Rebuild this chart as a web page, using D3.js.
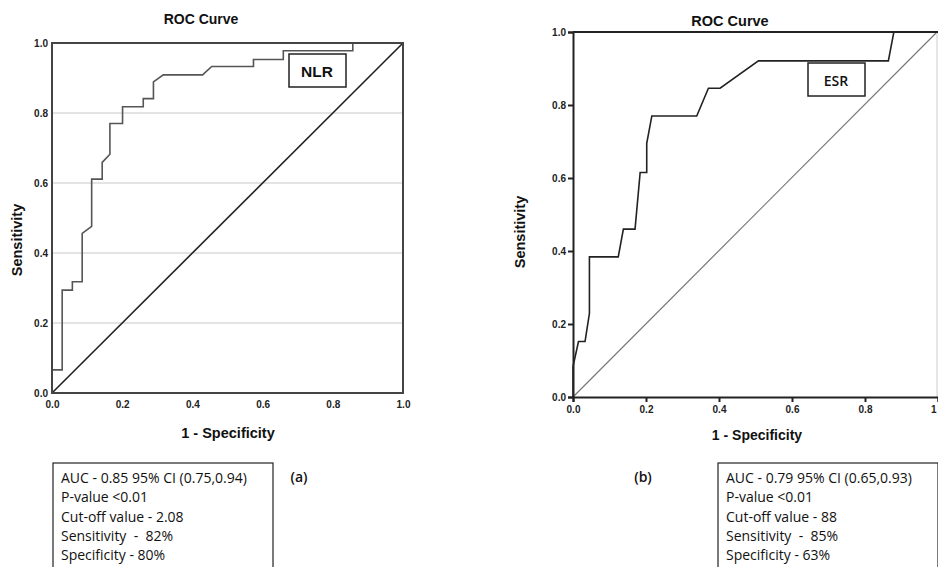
<!DOCTYPE html>
<html>
<head>
<meta charset="utf-8">
<script src="https://cdn.jsdelivr.net/npm/d3@7"></script>
<style>
  body { margin: 0; background: #fff; }
  svg { display: block; }
  .tick text { font-family: "Liberation Sans", Arial, sans-serif; font-weight: bold; font-size: 10px; fill: #222; }
  .lbl { font-family: "Liberation Sans", Arial, sans-serif; font-weight: bold; fill: #111; }
  .note { font-family: "Open Sans", "Noto Sans", sans-serif; font-size: 14px; fill: #111; white-space: pre; }
</style>
</head>
<body>
<div id="chart"></div>
<script>
// NLR curve (panel a)
let nlrFpr = [0, 0, 0.029, 0.029, 0.058, 0.058, 0.086, 0.086, 0.113, 0.113, 0.143, 0.143, 0.165, 0.165, 0.201, 0.201, 0.260, 0.260, 0.289, 0.289, 0.317, 0.429, 0.455, 0.574, 0.574, 0.659, 0.659, 0.857, 0.857, 1.0];
let nlrTpr = [0, 0.066, 0.066, 0.294, 0.294, 0.318, 0.318, 0.456, 0.476, 0.611, 0.611, 0.659, 0.682, 0.770, 0.770, 0.818, 0.818, 0.841, 0.841, 0.889, 0.909, 0.909, 0.933, 0.933, 0.953, 0.953, 0.978, 0.978, 1.0, 1.0];

// ESR curve (panel b)
let esrFpr = [0, 0, 0.015, 0.033, 0.045, 0.045, 0.124, 0.138, 0.170, 0.184, 0.202, 0.202, 0.216, 0.339, 0.371, 0.403, 0.508, 0.864, 0.879, 1.0];
let esrTpr = [0, 0.083, 0.152, 0.152, 0.229, 0.384, 0.384, 0.460, 0.460, 0.615, 0.615, 0.695, 0.770, 0.770, 0.846, 0.846, 0.921, 0.921, 1.0, 1.0];

let tickValues = [0, 0.2, 0.4, 0.6, 0.8, 1.0];
let gridValues = [0.2, 0.4, 0.6, 0.8];

let nlrNotes = ['AUC - 0.85 95% CI (0.75,0.94)', 'P-value <0.01', 'Cut-off value - 2.08', 'Sensitivity  -  82%', 'Specificity - 80%'];
let esrNotes = ['AUC - 0.79 95% CI (0.65,0.93)', 'P-value <0.01', 'Cut-off value - 88', 'Sensitivity  -  85%', 'Specificity - 63%'];

let W = 938, H = 567;
let svg = d3.select('#chart').append('svg').attr('width', W).attr('height', H);
svg.append('rect').attr('width', W).attr('height', H).attr('fill', '#fff');

let fmt = d3.format('.1f');

// ---------- panel (a) ----------
let a = {left: 52, top: 43, w: 351, h: 350};
let xa = d3.scaleLinear().domain([0, 1]).range([a.left, a.left + a.w]);
let ya = d3.scaleLinear().domain([0, 1]).range([a.top + a.h, a.top]);

svg.append('g').selectAll('line').data(gridValues).enter().append('line')
  .attr('x1', xa(0)).attr('x2', xa(1))
  .attr('y1', d => ya(d)).attr('y2', d => ya(d))
  .attr('stroke', '#c8c8c8').attr('stroke-width', 1);

svg.append('line').attr('x1', xa(0)).attr('y1', ya(0)).attr('x2', xa(1)).attr('y2', ya(1))
  .attr('stroke', '#222').attr('stroke-width', 1.6);

svg.append('path').datum(d3.zip(nlrFpr, nlrTpr))
  .attr('d', d3.line().x(d => xa(d[0])).y(d => ya(d[1])))
  .attr('fill', 'none').attr('stroke', '#555').attr('stroke-width', 1.6);

svg.append('rect').attr('x', a.left).attr('y', a.top).attr('width', a.w).attr('height', a.h)
  .attr('fill', 'none').attr('stroke', '#444').attr('stroke-width', 2);

svg.append('g').attr('transform', 'translate(0,' + (a.top + a.h) + ')')
  .call(d3.axisBottom(xa).tickValues(tickValues).tickFormat(fmt).tickSize(0).tickPadding(8))
  .call(g => g.select('.domain').remove());
svg.append('g').attr('transform', 'translate(' + a.left + ',0)')
  .call(d3.axisLeft(ya).tickValues(tickValues).tickFormat(fmt).tickSize(0).tickPadding(4))
  .call(g => g.select('.domain').remove());

svg.append('text').attr('class', 'lbl').attr('x', 201).attr('y', 24).attr('text-anchor', 'middle')
  .attr('font-size', 14).text('ROC Curve');
svg.append('text').attr('class', 'lbl').attr('transform', 'translate(22,240) rotate(-90)')
  .attr('text-anchor', 'middle').attr('font-size', 14.5).text('Sensitivity');
svg.append('text').attr('class', 'lbl').attr('x', 228).attr('y', 438).attr('text-anchor', 'middle')
  .attr('font-size', 14.5).text('1 - Specificity');

svg.append('rect').attr('x', 289).attr('y', 54).attr('width', 57).attr('height', 33)
  .attr('fill', '#fff').attr('stroke', '#222').attr('stroke-width', 1.5);
svg.append('text').attr('class', 'lbl').attr('x', 317).attr('y', 77).attr('text-anchor', 'middle')
  .attr('font-size', 15.5).text('NLR');

// ---------- panel (b) ----------
let b = {left: 573, top: 32, w: 365, h: 365};
let xb = d3.scaleLinear().domain([0, 1]).range([b.left, b.left + b.w]);
let yb = d3.scaleLinear().domain([0, 1]).range([b.top + b.h, b.top]);

svg.append('line').attr('x1', xb(0)).attr('y1', yb(0)).attr('x2', xb(1) - 1).attr('y2', yb(1))
  .attr('stroke', '#777').attr('stroke-width', 1.2);

svg.append('line').attr('x1', xb(1) - 1).attr('x2', xb(1) - 1).attr('y1', yb(0)).attr('y2', yb(1))
  .attr('stroke', '#ccc').attr('stroke-width', 1);
svg.append('line').attr('x1', xb(0)).attr('x2', xb(1)).attr('y1', yb(1)).attr('y2', yb(1))
  .attr('stroke', '#222').attr('stroke-width', 2);

svg.append('path').datum(d3.zip(esrFpr, esrTpr))
  .attr('d', d3.line().x(d => xb(d[0])).y(d => yb(d[1])))
  .attr('fill', 'none').attr('stroke', '#222').attr('stroke-width', 1.6);

svg.append('g').attr('transform', 'translate(0,' + (b.top + b.h) + ')')
  .call(d3.axisBottom(xb).tickValues(tickValues).tickFormat(d => d == 1 ? '1' : fmt(d)).tickSize(5).tickPadding(4))
  .call(g => g.selectAll('.domain, line').attr('stroke', '#222').attr('stroke-width', 2))
  .call(g => g.selectAll('.tick text').filter(d => d == 1).attr('text-anchor', 'end').attr('dx', -2));
svg.append('g').attr('transform', 'translate(' + b.left + ',0)')
  .call(d3.axisLeft(yb).tickValues(tickValues).tickFormat(fmt).tickSize(5).tickPadding(2))
  .call(g => g.selectAll('.domain, line').attr('stroke', '#222').attr('stroke-width', 2));

svg.append('text').attr('class', 'lbl').attr('x', 730).attr('y', 26).attr('text-anchor', 'middle')
  .attr('font-size', 14.5).text('ROC Curve');
svg.append('text').attr('class', 'lbl').attr('transform', 'translate(525,232) rotate(-90)')
  .attr('text-anchor', 'middle').attr('font-size', 14.5).text('Sensitivity');
svg.append('text').attr('class', 'lbl').attr('x', 757).attr('y', 440).attr('text-anchor', 'middle')
  .attr('font-size', 14).text('1 - Specificity');

svg.append('rect').attr('x', 808).attr('y', 63).attr('width', 57).attr('height', 33)
  .attr('fill', '#fff').attr('stroke', '#222').attr('stroke-width', 1.5);
svg.append('text').attr('class', 'note').attr('x', 836).attr('y', 86).attr('text-anchor', 'middle')
  .attr('font-size', 17).attr('font-weight', 600).text('ESR');

// ---------- note boxes ----------
function noteBox(x, y, lines) {
  svg.append('rect').attr('x', x).attr('y', y).attr('width', 220).attr('height', 120)
    .attr('fill', '#fff').attr('stroke', '#222').attr('stroke-width', 1.2);
  svg.append('g').selectAll('text').data(lines).enter().append('text')
    .attr('class', 'note').attr('x', x + 8).attr('y', (d, i) => y + 20 + i * 19.3).text(d => d);
}
noteBox(53, 463, nlrNotes);
noteBox(718, 463, esrNotes);

svg.append('text').attr('class', 'note').attr('x', 299).attr('y', 482).attr('text-anchor', 'middle')
  .attr('font-size', 18).attr('font-weight', 600).text('(a)');
svg.append('text').attr('class', 'note').attr('x', 643).attr('y', 482).attr('text-anchor', 'middle')
  .attr('font-size', 18).attr('font-weight', 600).text('(b)');
</script>
</body>
</html>
